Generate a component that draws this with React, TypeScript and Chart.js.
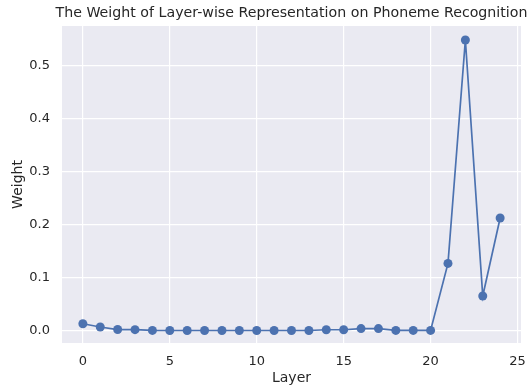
import React, { useEffect, useRef } from "react";
import { Chart, registerables } from "chart.js";

Chart.register(...registerables);

const layers = [0, 1, 2, 3, 4, 5, 6, 7, 8, 9, 10, 11, 12, 13, 14, 15, 16, 17, 18, 19, 20, 21, 22, 23, 24];
const weights = [
  0.0132, 0.0070, 0.0022, 0.0020, 0.0006, 0.0004, 0.0004, 0.0004, 0.0004, 0.0004,
  0.0004, 0.0004, 0.0004, 0.0004, 0.0018, 0.0018, 0.0040, 0.0040, 0.0006, 0.0006,
  0.0006, 0.1270, 0.5485, 0.0655, 0.2126,
];
const xTicks = [0, 5, 10, 15, 20, 25];
const yTicks = [0, 0.1, 0.2, 0.3, 0.4, 0.5];
const titleText = "The Weight of Layer-wise Representation on Phoneme Recognition";

const FONT = "'DejaVu Sans', sans-serif";
const TEXT = "#262626";

const bgPlugin = {
  id: "bgPlugin",
  beforeDraw(chart: any) {
    const { ctx, chartArea } = chart;
    ctx.save();
    ctx.fillStyle = "#EAEAF2";
    ctx.fillRect(chartArea.left, chartArea.top, chartArea.right - chartArea.left, chartArea.bottom - chartArea.top);
    ctx.restore();
  },
  afterDraw(chart: any) {
    const { ctx, chartArea } = chart;
    ctx.save();
    ctx.fillStyle = TEXT;
    ctx.font = `14.2px ${FONT}`;
    ctx.textAlign = "center";
    ctx.textBaseline = "middle";
    ctx.fillText(titleText, (chartArea.left + chartArea.right) / 2, 13);
    ctx.restore();
  },
};

export default function App() {
  const ref = useRef<HTMLCanvasElement>(null);
  useEffect(() => {
    if (!ref.current) return;
    const chart = new Chart(ref.current, {
      type: "scatter",
      data: {
        datasets: [
          {
            data: layers.map((l, i) => ({ x: l, y: weights[i] })),
            showLine: true,
            borderColor: "#4C72B0",
            backgroundColor: "#4C72B0",
            borderWidth: 1.7,
            pointRadius: 4.5,
            pointHoverRadius: 4.5,
            pointBorderWidth: 0,
          },
        ],
      },
      options: {
        responsive: false,
        animation: false,
        layout: { padding: { left: 0, right: 8, top: 26, bottom: 0 } },
        plugins: {
          legend: { display: false },
          tooltip: { enabled: false },
          title: { display: false },
        },
        scales: {
          x: {
            type: "linear",
            min: -1.2,
            max: 25.2,
            afterBuildTicks: (s: any) => {
              s.ticks = xTicks.map((v) => ({ value: v }));
            },
            afterFit: (s: any) => {
              s.height = 44;
              s.paddingLeft = 0;
              s.paddingRight = 0;
            },
            grid: { color: "#ffffff", lineWidth: 1.2, drawTicks: false },
            border: { display: false },
            ticks: {
              color: TEXT,
              font: { family: FONT, size: 13 },
              padding: 11,
              maxRotation: 0,
              callback: (v: any) => String(v),
            },
            title: {
              display: true,
              text: "Layer",
              color: TEXT,
              font: { family: FONT, size: 14 },
              padding: { top: 2, bottom: 0 },
            },
          },
          y: {
            type: "linear",
            min: -0.0232,
            max: 0.575,
            afterBuildTicks: (s: any) => {
              s.ticks = yTicks.map((v) => ({ value: v }));
            },
            afterFit: (s: any) => {
              s.width = 62;
              s.paddingTop = 0;
              s.paddingBottom = 0;
            },
            grid: { color: "#ffffff", lineWidth: 1.2, drawTicks: false },
            border: { display: false },
            ticks: {
              color: TEXT,
              font: { family: FONT, size: 13 },
              padding: 12,
              callback: (v: any) => Number(v).toFixed(1),
            },
            title: {
              display: true,
              text: "Weight",
              color: TEXT,
              font: { family: FONT, size: 14 },
              padding: { top: 10, bottom: 4 },
            },
          },
        },
      },
      plugins: [bgPlugin],
    } as any);
    return () => chart.destroy();
  }, []);
  return (
    <div style={{ position: "fixed", left: 0, top: 0, width: 529, height: 387, background: "#fff" }}>
      <canvas ref={ref} width={529} height={387} />
    </div>
  );
}
